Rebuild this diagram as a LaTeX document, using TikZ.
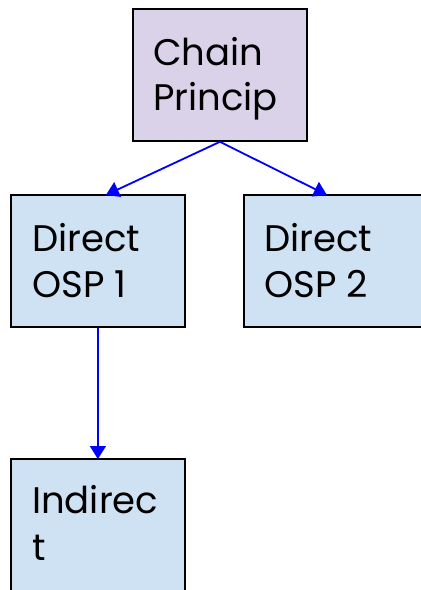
\documentclass[tikz,border=0pt]{standalone}
\usepackage{fontspec}
\setmainfont{Poppins}
\usetikzlibrary{arrows.meta}
\definecolor{lav}{HTML}{D9D2E9}
\definecolor{lblue}{HTML}{CFE2F3}
\definecolor{arrblue}{HTML}{0000FF}
\begin{document}
\begin{tikzpicture}[x=1pt,y=-1pt,
  box/.style={draw=black,line width=1.8pt,rectangle,inner sep=0pt,anchor=north west},
  txt/.style={anchor=base west,inner sep=0pt,font=\fontsize{37}{44}\selectfont},
  conn/.style={draw=arrblue,line width=1.8pt,-{Triangle[length=13pt,width=16pt]}}]
\useasboundingbox (0,0) rectangle (421,590);
\node[box,fill=lav,minimum width=174pt,minimum height=132pt] (chain) at (132,8) {};
\node[box,fill=lblue,minimum width=174pt,minimum height=132pt] (osp1) at (10,194) {};
\node[box,fill=lblue,minimum width=182pt,minimum height=132pt] (osp2) at (243,194) {};
\node[box,fill=lblue,minimum width=174pt,minimum height=134pt] (ind) at (10,458) {};
\node[txt] (t1) at (153,65) {Chain};
\node[txt] (t2) at (153,110) {Princip};
\node[txt] (t3) at (32,251) {Direct};
\node[txt] (t4) at (32,297) {OSP 1};
\node[txt] (t5) at (264,251) {Direct};
\node[txt] (t6) at (264,297) {OSP 2};
\node[txt] (t7) at (32,513) {Indirec};
\node[txt] (t8) at (32,560) {t};
\coordinate (e1) at ([xshift=8pt,yshift=-1pt]osp1.north);
\coordinate (e2) at ([xshift=-8pt,yshift=-1pt]osp2.north);
\draw[conn] (chain.south) -- (e1);
\draw[conn] (chain.south) -- (e2);
\draw[conn] (osp1.south) -- ([yshift=-1pt]osp1.south |- ind.north);
\end{tikzpicture}
\end{document}
